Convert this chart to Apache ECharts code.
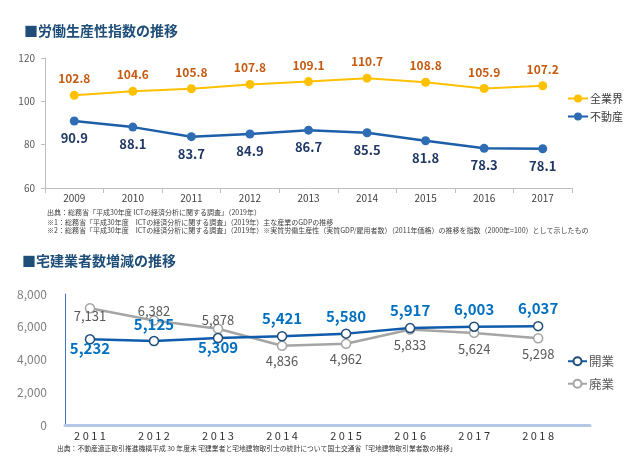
<!DOCTYPE html>
<html>
<head>
<meta charset="utf-8">
<script src="https://cdn.jsdelivr.net/npm/echarts@6/dist/echarts.min.js"></script>
<style>
  html, body { margin: 0; padding: 0; background: #fff; }
  #chart { width: 630px; height: 472px; }
</style>
</head>
<body>
<div id="chart"></div>
<script>
// 労働生産性指数
const prodYears = ['2009', '2010', '2011', '2012', '2013', '2014', '2015', '2016', '2017'];
const allIndustry = [102.8, 104.6, 105.8, 107.8, 109.1, 110.7, 108.8, 105.9, 107.2];
const realEstate = [90.9, 88.1, 83.7, 84.9, 86.7, 85.5, 81.8, 78.3, 78.1];

// 宅建業者数
const dealerYears = [2011, 2012, 2013, 2014, 2015, 2016, 2017, 2018];
const openings = [5232, 5125, 5309, 5421, 5580, 5917, 6003, 6037];
const closings = [7131, 6382, 5878, 4836, 4962, 5833, 5624, 5298];

// label placement per point: above or below, and gap to the marker
const openingsAbove = [false, true, false, true, true, true, true, true];
const openingsGap = [-4, 4, -4, 5, 5, 5, 5, 5];
const closingsAbove = [false, true, true, false, false, false, false, false];
const closingsGap = [-4, -2, -3, 4, 4, 4, 4, 4];

const FONT = '"Noto Sans CJK JP", "Noto Sans", sans-serif';
const chart = echarts.init(document.getElementById('chart'));

const fmt = v => v.toLocaleString('en-US');
const spaced = v => String(v).split('').join(' ');

function pairs(values, above, gap) {
  return values.map((v, i) => ({
    value: [dealerYears[i], v],
    label: { position: above[i] ? 'top' : 'bottom', distance: gap[i] }
  }));
}

const text = (t, left, top, size, color, weight) => ({
  text: t, left: left, top: top, padding: 0,
  textStyle: { fontFamily: FONT, fontSize: size, fontWeight: weight || 'normal', color: color }
});

chart.setOption({
  animation: false,
  textStyle: { fontFamily: FONT },
  title: [
    text('■労働生産性指数の推移', 24, 24, 14, '#1F4E79', 'bold'),
    text('出典：総務省「平成30年度 ICTの経済分析に関する調査」（2019年）', 47, 209, 7, '#404040'),
    text('※1：総務省「平成30年度　ICTの経済分析に関する調査」（2019年）主な産業のGDPの推移', 47, 219, 7, '#404040'),
    text('※2：総務省「平成30年度　ICTの経済分析に関する調査」（2019年）※実質労働生産性（実質GDP/雇用者数）（2011年価格）の推移を指数（2000年=100）として示したもの', 47, 227, 7, '#404040'),
    text('■宅建業者数増減の推移', 22, 254, 14, '#1F4E79', 'bold'),
    text('出典：不動産適正取引推進機構平成 30 年度末 宅建業者と宅地建物取引士の統計について国土交通省「宅地建物取引業者数の推移」', 57, 445, 6.8, '#333')
  ],
  legend: [
    { orient: 'vertical', left: 562, top: 88, itemGap: 7, itemWidth: 20, itemHeight: 10,
      data: ['全業界', '不動産'],
      textStyle: { fontFamily: FONT, fontSize: 11, color: '#404040', padding: [0, 0, 0, -3] } },
    { orient: 'vertical', left: 562, top: 350, itemGap: 10, itemWidth: 19, itemHeight: 10,
      data: ['開業', '廃業'],
      textStyle: { fontFamily: FONT, fontSize: 12.5, color: '#595959', padding: [0, 0, 0, -3] } }
  ],
  grid: [
    { left: 45, right: 58, top: 58, bottom: 284 },
    { left: 65, right: 40, top: 294, bottom: 47 }
  ],
  xAxis: [
    { gridIndex: 0, type: 'category', data: prodYears, boundaryGap: true,
      axisLine: { lineStyle: { color: '#BFBFBF' } },
      axisTick: { show: true, length: 5, lineStyle: { color: '#BFBFBF' } },
      axisLabel: { color: '#404040', fontSize: 10, margin: 5 } },
    { gridIndex: 1, type: 'value', min: 2010.61, max: 2018.81,
      splitLine: { show: false },
      axisLine: { onZero: false, lineStyle: { color: '#B4C7E7', width: 3 } },
      axisTick: { show: false },
      axisLabel: { customValues: dealerYears, formatter: spaced,
        color: '#333', fontSize: 11, margin: 5 } }
  ],
  yAxis: [
    { gridIndex: 0, type: 'value', min: 60, max: 120, interval: 20,
      splitLine: { show: false },
      axisLine: { show: true, lineStyle: { color: '#BFBFBF' } },
      axisTick: { show: true, length: 4, lineStyle: { color: '#BFBFBF' } },
      axisLabel: { color: '#595959', fontSize: 10, margin: 10 } },
    { gridIndex: 1, type: 'value', min: 0, max: 8000, interval: 2000,
      splitLine: { show: false },
      axisLine: { show: true, onZero: false, lineStyle: { color: '#4472C4', width: 1 } },
      axisTick: { show: false },
      axisLabel: { color: '#7F7F7F', fontSize: 12, margin: 18, formatter: fmt } }
  ],
  series: [
    { name: '全業界', type: 'line', xAxisIndex: 0, yAxisIndex: 0, data: allIndustry,
      color: '#FFC000', symbol: 'circle', symbolSize: 9,
      lineStyle: { width: 2 },
      label: { show: true, position: 'top', distance: 6,
        color: '#C55A11', fontSize: 12, fontWeight: 'bold' } },
    { name: '不動産', type: 'line', xAxisIndex: 0, yAxisIndex: 0, data: realEstate,
      color: '#2E6DB4', symbol: 'circle', symbolSize: 9,
      lineStyle: { width: 2.5, color: '#1E5FAA' },
      label: { show: true, position: 'bottom', distance: 6,
        color: '#1F3864', fontSize: 13, fontWeight: 'bold' } },
    { name: '廃業', type: 'line', xAxisIndex: 1, yAxisIndex: 1,
      data: pairs(closings, closingsAbove, closingsGap),
      color: '#A5A5A5', symbol: 'circle', symbolSize: 9,
      itemStyle: { color: '#fff', borderColor: '#A5A5A5', borderWidth: 1.5 },
      lineStyle: { width: 2.5, color: '#A5A5A5' },
      label: { show: true, formatter: p => fmt(p.value[1]),
        color: '#595959', fontSize: 13 } },
    { name: '開業', type: 'line', xAxisIndex: 1, yAxisIndex: 1,
      data: pairs(openings, openingsAbove, openingsGap),
      color: '#1F4E79', symbol: 'circle', symbolSize: 9,
      itemStyle: { color: '#fff', borderColor: '#1F4E79', borderWidth: 1.5 },
      lineStyle: { width: 2.5, color: '#0E5CAB' },
      label: { show: true, formatter: p => fmt(p.value[1]),
        color: '#0070C0', fontSize: 15, fontWeight: 'bold' } }
  ]
});
</script>
</body>
</html>
